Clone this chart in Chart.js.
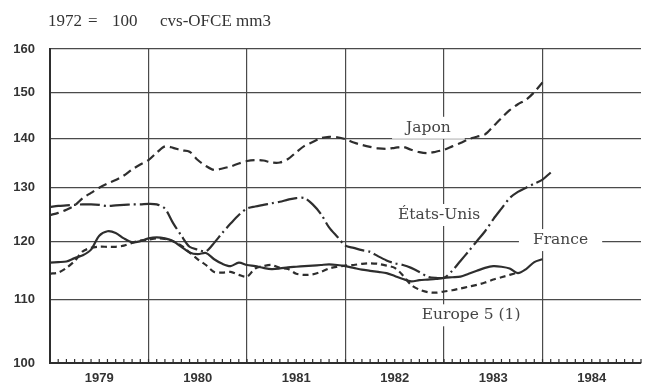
<!DOCTYPE html>
<html>
<head>
<meta charset="utf-8">
<script src="https://cdn.jsdelivr.net/npm/chart.js@4"></script>
<style>
html, body { margin: 0; padding: 0; background: #fff; overflow: hidden; }
#wrap { width: 649px; height: 386px; }
</style>
</head>
<body>
<div id="wrap"><canvas id="myChart" width="649" height="386"></canvas></div>
<script>
// monthly index, 1972 = 100 (log scale), Jan 1979 .. Jan 1984
const years = ['1979', '1980', '1981', '1982', '1983', '1984'];
const monthNames = ['janv', 'févr', 'mars', 'avr', 'mai', 'juin', 'juil', 'août', 'sept', 'oct', 'nov', 'déc'];

const japon = [
  124.8, 125.2, 125.8, 126.6, 128.0, 129.0, 130.0, 130.8, 131.5, 132.4, 133.6, 134.6,
  135.5, 137.0, 138.3, 138.0, 137.5, 137.2, 135.5, 134.3, 133.5, 133.8, 134.2, 134.8,
  135.3, 135.5, 135.4, 135.0, 135.0, 135.7, 137.1, 138.4, 139.2, 140.0, 140.3, 140.2,
  139.8, 139.1, 138.6, 138.2, 137.9, 137.8, 138.0, 138.2, 137.6, 137.1, 136.9, 137.2,
  137.6, 138.3, 139.0, 139.8, 140.3, 140.8, 142.5, 144.3, 146.0, 147.3, 148.3, 150.0,
  152.2
];
const etatsUnis = [
  126.3, 126.5, 126.6, 126.7, 126.8, 126.8, 126.7, 126.5, 126.6, 126.7, 126.8, 126.8,
  126.9, 126.8, 126.0, 123.3, 121.0, 119.0, 118.5, 118.2, 119.7, 121.5, 123.2, 124.8,
  126.0, 126.4, 126.7, 127.0, 127.3, 127.7, 128.0, 128.0, 126.8, 125.0, 122.5, 120.8,
  119.2, 118.8, 118.4, 118.1, 117.3, 116.6, 116.1, 115.8, 115.3, 114.6, 113.8, 113.6,
  113.6, 114.8, 116.5, 118.2, 120.0, 121.8, 124.0, 126.0, 128.0, 129.2, 130.0, 130.8,
  131.6, 133.0
];
const france = [
  116.2, 116.3, 116.4, 117.0, 117.5, 118.5, 121.0, 121.8, 121.5, 120.5, 119.8, 120.0,
  120.5, 120.7, 120.5, 120.0, 119.0, 118.0, 117.7, 117.9, 116.8, 116.0, 115.6, 116.2,
  115.8, 115.6, 115.3, 115.1, 115.2, 115.4, 115.5, 115.6, 115.7, 115.8, 115.9, 115.8,
  115.6, 115.3, 115.0, 114.8, 114.6, 114.4, 113.9, 113.4, 113.0, 113.2, 113.3, 113.4,
  113.6, 113.7, 113.8, 114.3, 114.8, 115.3, 115.6, 115.5, 115.2, 114.4, 115.1, 116.3,
  116.8
];
const europe5 = [
  114.3, 114.5, 115.3, 116.5, 118.2, 118.8, 119.0, 119.0, 119.0, 119.2, 119.7, 120.1,
  120.3, 120.5, 120.4, 120.0, 119.2, 118.0, 116.8, 115.8, 114.6, 114.5, 114.6, 114.1,
  113.8, 115.2, 115.6, 115.8, 115.3, 115.1, 114.3, 114.1, 114.2, 114.6, 115.2, 115.5,
  115.7, 115.8, 116.0, 116.1, 116.0, 115.7, 115.3, 114.0, 112.4, 111.6, 111.2, 111.1,
  111.3, 111.5, 111.8, 112.1, 112.4, 112.8, 113.3, 113.7, 114.1, 114.5
];
const yTicks = [100, 110, 120, 130, 140, 150, 160];

// in-chart series names, anchored in data coordinates (month index, index value)
const seriesNames = [
  { text: 'Japon', at: 46.1, value: 142.2, padX: 14 },
  { text: 'États-Unis', at: 47.4, value: 124.8, padX: 4 },
  { text: 'France', at: 62.2, value: 120.2, padX: 14 },
  { text: 'Europe 5 (1)', at: 51.3, value: 107.4, padX: 4 }
];

const labels = [];
years.concat(['1985']).forEach(y => monthNames.forEach(m => labels.push(m + ' ' + y)));
labels.length = 73;

const ink = '#2e2e2e';

const chartText = {
  id: 'chartText',
  beforeDatasetsDraw(chart) {
    const { ctx, scales: { x, y } } = chart;
    ctx.save();
    ctx.font = '15.5px "DejaVu Serif"';
    ctx.textAlign = 'center';
    ctx.textBaseline = 'middle';
    seriesNames.forEach(s => {
      const px = x.getPixelForValue(s.at);
      const py = y.getPixelForValue(s.value);
      const w = ctx.measureText(s.text).width;
      ctx.fillStyle = '#fff';
      ctx.fillRect(px - w / 2 - s.padX, py - 11, w + 2 * s.padX, 22);
      ctx.fillStyle = '#444';
      ctx.fillText(s.text, px, py);
    });
    // small monthly ticks along the bottom axis, pointing inward
    ctx.strokeStyle = ink;
    ctx.lineWidth = 1.2;
    const bottom = chart.chartArea.bottom;
    for (let i = 0; i < labels.length; i++) {
      const px = x.getPixelForValue(i);
      ctx.beginPath();
      ctx.moveTo(px, bottom);
      ctx.lineTo(px, bottom - 4);
      ctx.stroke();
    }
    ctx.restore();
  },
  afterDraw(chart) {
    const { ctx } = chart;
    ctx.save();
    ctx.font = '17px "Liberation Serif"';
    ctx.fillStyle = '#333';
    ctx.textBaseline = 'alphabetic';
    ctx.fillText('1972', 48, 26);
    ctx.fillText('=', 88, 26);
    ctx.fillText('100', 112, 26);
    ctx.fillText('cvs-OFCE mm3', 160, 26);
    ctx.restore();
  }
};

const ctx = document.getElementById('myChart').getContext('2d');
const myChart = new Chart(ctx, {
  type: 'line',
  data: {
    labels: labels,
    datasets: [
      { label: 'Japon', data: japon, borderDash: [9, 5] },
      { label: 'États-Unis', data: etatsUnis, borderDash: [20, 4, 2, 4] },
      { label: 'France', data: france },
      { label: 'Europe 5 (1)', data: europe5, borderDash: [6, 4] }
    ].map(d => Object.assign({
      borderColor: ink,
      borderWidth: 2.2,
      pointRadius: 0,
      tension: 0.3,
      fill: false
    }, d))
  },
  options: {
    responsive: false,
    animation: false,
    layout: { padding: { top: 49, right: 0, left: 0, bottom: 0 } },
    plugins: {
      legend: { display: false },
      tooltip: { enabled: false },
      title: { display: false }
    },
    scales: {
      x: {
        type: 'category',
        offset: false,
        afterFit: scale => { scale.height = 23; },
        border: { display: true, color: ink, width: 2 },
        grid: {
          drawTicks: false,
          lineWidth: 1.2,
          color: c => (c.index % 12 === 0 && c.index > 0 && c.index < 72) ? '#4a4a4a' : 'rgba(0,0,0,0)'
        },
        ticks: {
          autoSkip: false,
          maxRotation: 0,
          padding: 8,
          color: '#333',
          font: { family: 'Liberation Sans', weight: 'bold', size: 13 },
          callback: (v, i) => (i % 12 === 6) ? years[Math.floor(i / 12)] : ''
        }
      },
      y: {
        type: 'logarithmic',
        min: 100,
        max: 160,
        afterFit: scale => { scale.width = 50; },
        afterBuildTicks: scale => { scale.ticks = yTicks.map(v => ({ value: v })); },
        border: { display: true, color: ink, width: 2 },
        grid: {
          drawTicks: false,
          lineWidth: 1.2,
          color: c => c.index === 0 ? 'rgba(0,0,0,0)' : '#4a4a4a'
        },
        ticks: {
          padding: 15,
          color: '#333',
          font: { family: 'Liberation Sans', weight: 'bold', size: 13 },
          callback: v => String(v)
        }
      }
    }
  },
  plugins: [chartText]
});
</script>
</body>
</html>
